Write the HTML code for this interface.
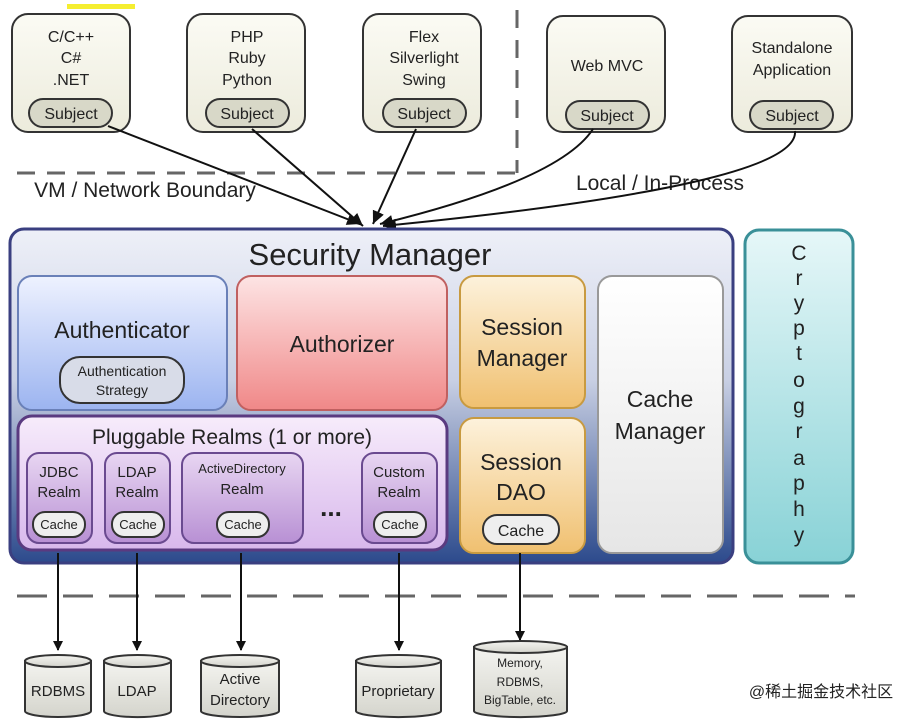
<!DOCTYPE html>
<html><head><meta charset="utf-8"><style>
html,body{margin:0;padding:0;background:#fff;}
svg{display:block;}
text{font-family:"Liberation Sans","Noto Sans CJK SC",sans-serif;fill:#222;text-anchor:middle;}
</style></head><body>
<svg width="921" height="720" viewBox="0 0 921 720" xmlns="http://www.w3.org/2000/svg">
<defs>
<linearGradient id="sm" x1="0" y1="0" x2="0" y2="1"><stop offset="0" stop-color="#eef0f8"/><stop offset="0.45" stop-color="#c9d0e4"/><stop offset="1" stop-color="#2c4a8c"/></linearGradient>
<linearGradient id="au" x1="0" y1="0" x2="0" y2="1"><stop offset="0" stop-color="#eef2ff"/><stop offset="1" stop-color="#9cb4f0"/></linearGradient>
<linearGradient id="az" x1="0" y1="0" x2="0" y2="1"><stop offset="0" stop-color="#fde4e4"/><stop offset="1" stop-color="#f08888"/></linearGradient>
<linearGradient id="se" x1="0" y1="0" x2="0" y2="1"><stop offset="0" stop-color="#fdf2dc"/><stop offset="1" stop-color="#f0c070"/></linearGradient>
<linearGradient id="cm" x1="0" y1="0" x2="0" y2="1"><stop offset="0" stop-color="#ffffff"/><stop offset="1" stop-color="#e6e6e6"/></linearGradient>
<linearGradient id="pr" x1="0" y1="0" x2="0" y2="1"><stop offset="0" stop-color="#f7ecfb"/><stop offset="1" stop-color="#d8b8ec"/></linearGradient>
<linearGradient id="rl" x1="0" y1="0" x2="0" y2="1"><stop offset="0" stop-color="#e8d6f2"/><stop offset="1" stop-color="#b890d4"/></linearGradient>
<linearGradient id="cr" x1="0" y1="0" x2="0" y2="1"><stop offset="0" stop-color="#e6f7f8"/><stop offset="1" stop-color="#88d2d6"/></linearGradient>
<linearGradient id="tb" x1="0" y1="0" x2="0" y2="1"><stop offset="0" stop-color="#fbfbf4"/><stop offset="1" stop-color="#ecebdc"/></linearGradient>
<linearGradient id="cy" x1="0" y1="0" x2="0" y2="1"><stop offset="0" stop-color="#f4f4f0"/><stop offset="1" stop-color="#d4d4cc"/></linearGradient>
<marker id="ar" markerWidth="10" markerHeight="10" refX="9" refY="5" orient="auto" markerUnits="userSpaceOnUse"><path d="M0,0 L10,5 L0,10 z" fill="#111"/></marker>
<marker id="ad" markerWidth="14" markerHeight="14" refX="13" refY="7" orient="auto" markerUnits="userSpaceOnUse"><path d="M0,1 L13,7 L0,13 z" fill="#111"/></marker>
</defs>
<rect x="67" y="4" width="68" height="5" fill="#f5ee30"/>
<!-- dashed boundaries -->
<line x1="17" y1="173" x2="517" y2="173" stroke="#666" stroke-width="3" stroke-dasharray="18,12"/>
<line x1="517" y1="10" x2="517" y2="173" stroke="#666" stroke-width="3" stroke-dasharray="18,12"/>
<line x1="17" y1="596" x2="855" y2="596" stroke="#666" stroke-width="3" stroke-dasharray="30,16"/>
<!-- top boxes -->
<g stroke="#333" stroke-width="2" fill="url(#tb)">
<rect x="12" y="14" width="118" height="118" rx="16"/>
<rect x="187" y="14" width="118" height="118" rx="16"/>
<rect x="363" y="14" width="118" height="118" rx="16"/>
<rect x="547" y="16" width="118" height="116" rx="16"/>
<rect x="732" y="16" width="120" height="116" rx="16"/>
</g>
<g stroke="#333" stroke-width="2" fill="#d8d8c8">
<rect x="29" y="99" width="83" height="28" rx="14"/>
<rect x="206" y="99" width="83" height="28" rx="14"/>
<rect x="383" y="99" width="83" height="28" rx="14"/>
<rect x="566" y="101" width="83" height="28" rx="14"/>
<rect x="750" y="101" width="83" height="28" rx="14"/>
</g>
<g font-size="16">
<text x="71" y="42">C/C++</text><text x="71" y="63">C#</text><text x="71" y="85">.NET</text>
<text x="247" y="42">PHP</text><text x="247" y="63">Ruby</text><text x="247" y="85">Python</text>
<text x="424" y="42">Flex</text><text x="424" y="63">Silverlight</text><text x="424" y="85">Swing</text>
<text x="607" y="71">Web MVC</text>
<text x="792" y="53">Standalone</text><text x="792" y="75">Application</text>
<text x="71" y="119">Subject</text><text x="247" y="119">Subject</text><text x="424" y="119">Subject</text>
<text x="607" y="121">Subject</text><text x="792" y="121">Subject</text>
</g>
<text x="145" y="197" font-size="21" fill="#333">VM / Network Boundary</text>
<text x="660" y="190" font-size="21" fill="#333">Local / In-Process</text>
<!-- arrows from subjects -->
<g stroke="#111" stroke-width="2" fill="none">
<path d="M108,126 L360,224" marker-end="url(#ad)"/>
<path d="M252,129 L363,226" marker-end="url(#ad)"/>
<path d="M416,129 L373,224" marker-end="url(#ad)"/>
<path d="M593,129 Q560,180 380,224" marker-end="url(#ad)"/>
<path d="M795,131 Q800,185 383,226" marker-end="url(#ad)"/>
</g>
<!-- security manager -->
<rect x="10" y="229" width="723" height="334" rx="14" fill="url(#sm)" stroke="#3a3f80" stroke-width="3"/>
<text x="370" y="265" font-size="31">Security Manager</text>
<rect x="18" y="276" width="209" height="134" rx="14" fill="url(#au)" stroke="#6a80b8" stroke-width="2"/>
<text x="122" y="338" font-size="23">Authenticator</text>
<rect x="60" y="357" width="124" height="46" rx="20" fill="#d8dce8" stroke="#333" stroke-width="2"/>
<text x="122" y="376" font-size="14">Authentication</text><text x="122" y="395" font-size="14">Strategy</text>
<rect x="237" y="276" width="210" height="134" rx="14" fill="url(#az)" stroke="#c06060" stroke-width="2"/>
<text x="342" y="352" font-size="23">Authorizer</text>
<rect x="460" y="276" width="125" height="132" rx="14" fill="url(#se)" stroke="#c89a40" stroke-width="2"/>
<text x="522" y="335" font-size="23">Session</text><text x="522" y="366" font-size="23">Manager</text>
<rect x="460" y="418" width="125" height="135" rx="14" fill="url(#se)" stroke="#c89a40" stroke-width="2"/>
<text x="521" y="470" font-size="23">Session</text><text x="521" y="500" font-size="23">DAO</text>
<rect x="483" y="515" width="76" height="29" rx="14" fill="#eee" stroke="#333" stroke-width="2"/>
<text x="521" y="536" font-size="16">Cache</text>
<rect x="598" y="276" width="125" height="277" rx="14" fill="url(#cm)" stroke="#999" stroke-width="2"/>
<text x="660" y="407" font-size="23">Cache</text><text x="660" y="439" font-size="23">Manager</text>
<rect x="18" y="416" width="429" height="134" rx="14" fill="url(#pr)" stroke="#5a3a80" stroke-width="3"/>
<text x="232" y="444" font-size="21">Pluggable Realms (1 or more)</text>
<g stroke="#6a4a90" stroke-width="2" fill="url(#rl)">
<rect x="27" y="453" width="65" height="90" rx="12"/>
<rect x="105" y="453" width="65" height="90" rx="12"/>
<rect x="182" y="453" width="121" height="90" rx="12"/>
<rect x="362" y="453" width="75" height="90" rx="12"/>
</g>
<g stroke="#333" stroke-width="2" fill="#eee">
<rect x="33" y="512" width="52" height="25" rx="12"/>
<rect x="112" y="512" width="52" height="25" rx="12"/>
<rect x="217" y="512" width="52" height="25" rx="12"/>
<rect x="374" y="512" width="52" height="25" rx="12"/>
</g>
<g font-size="15" fill="#333">
<text x="59" y="477">JDBC</text><text x="59" y="497">Realm</text>
<text x="137" y="477">LDAP</text><text x="137" y="497">Realm</text>
<text x="242" y="473" font-size="13">ActiveDirectory</text><text x="242" y="494">Realm</text>
<text x="399" y="477">Custom</text><text x="399" y="497">Realm</text>
</g>
<g font-size="13"><text x="59" y="529">Cache</text><text x="138" y="529">Cache</text><text x="243" y="529">Cache</text><text x="400" y="529">Cache</text></g>
<text x="331" y="516" font-size="26" font-weight="bold">...</text>
<!-- cryptography -->
<rect x="745" y="230" width="108" height="333" rx="14" fill="url(#cr)" stroke="#3a9098" stroke-width="3"/>
<g font-size="21"><text x="799" y="260">C</text><text x="799" y="285">r</text><text x="799" y="310">y</text><text x="799" y="335">p</text><text x="799" y="360">t</text><text x="799" y="387">o</text><text x="799" y="413">g</text><text x="799" y="438">r</text><text x="799" y="465">a</text><text x="799" y="490">p</text><text x="799" y="516">h</text><text x="799" y="542">y</text></g>
<!-- down arrows -->
<g stroke="#111" stroke-width="2">
<line x1="58" y1="553" x2="58" y2="650" marker-end="url(#ar)"/>
<line x1="137" y1="553" x2="137" y2="650" marker-end="url(#ar)"/>
<line x1="241" y1="553" x2="241" y2="650" marker-end="url(#ar)"/>
<line x1="399" y1="553" x2="399" y2="650" marker-end="url(#ar)"/>
<line x1="520" y1="553" x2="520" y2="640" marker-end="url(#ar)"/>
</g>
<!-- cylinders -->
<g stroke="#333" stroke-width="2" fill="url(#cy)">
<path d="M25,661 v50 a33,6 0 0 0 66,0 v-50 z"/><ellipse cx="58" cy="661" rx="33" ry="6"/>
<path d="M104,661 v50 a33,6 0 0 0 67,0 v-50 z"/><ellipse cx="137.5" cy="661" rx="33.5" ry="6"/>
<path d="M201,661 v50 a39,6 0 0 0 78,0 v-50 z"/><ellipse cx="240" cy="661" rx="39" ry="6"/>
<path d="M356,661 v50 a42,6 0 0 0 85,0 v-50 z"/><ellipse cx="398.5" cy="661" rx="42.5" ry="6"/>
<path d="M474,647 v64 a46,6 0 0 0 93,0 v-64 z"/><ellipse cx="520.5" cy="647" rx="46.5" ry="6"/>
</g>
<g font-size="15" fill="#333">
<text x="58" y="696">RDBMS</text><text x="137" y="696">LDAP</text>
<text x="240" y="684">Active</text><text x="240" y="705">Directory</text>
<text x="398" y="696">Proprietary</text>
<text x="520" y="667" font-size="12">Memory,</text><text x="520" y="686" font-size="12">RDBMS,</text><text x="520" y="704" font-size="12">BigTable, etc.</text>
</g>
<text x="821" y="697" font-size="16" fill="#999">@稀土掘金技术社区</text>
</svg>
</body></html>
